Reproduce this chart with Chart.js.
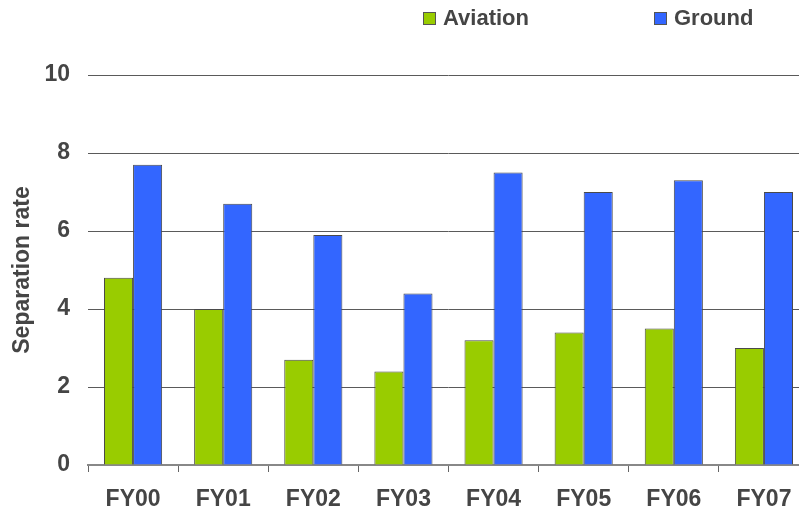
<!DOCTYPE html>
<html>
<head>
<meta charset="utf-8">
<script src="https://cdn.jsdelivr.net/npm/chart.js@4"></script>
<style>
  html, body { margin: 0; padding: 0; background: #fff; overflow: hidden; }
  #wrap { position: relative; width: 809px; height: 513px; }
</style>
</head>
<body>
<div id="wrap"><canvas id="rateChart"></canvas></div>
<script>
// data
const categories = ['FY00', 'FY01', 'FY02', 'FY03', 'FY04', 'FY05', 'FY06', 'FY07'];
const aviation = [4.8, 4.0, 2.7, 2.4, 3.2, 3.4, 3.5, 3.0];
const ground = [7.7, 6.7, 5.9, 4.4, 7.5, 7.0, 7.3, 7.0];
const yTicks = [0, 2, 4, 6, 8, 10];

const textColor = '#454545';
const fontFamily = 'Arial, "Liberation Sans", sans-serif';

// legend drawn at the top right, like the original
const topLegend = {
    id: 'topLegend',
    afterDraw(chart) {
        const ctx = chart.ctx;
        const spots = [423, 654];
        ctx.save();
        ctx.font = 'bold 22px ' + fontFamily;
        ctx.textBaseline = 'middle';
        chart.data.datasets.forEach((ds, i) => {
            const x = spots[i];
            ctx.fillStyle = ds.backgroundColor;
            ctx.fillRect(x, 12, 12, 12);
            ctx.strokeStyle = '#555';
            ctx.lineWidth = 1;
            ctx.strokeRect(x + 0.5, 12.5, 12, 12);
            ctx.fillStyle = textColor;
            ctx.fillText(ds.label, x + 20, 19);
        });
        ctx.restore();
    }
};

new Chart(document.getElementById('rateChart'), {
    type: 'bar',
    data: {
        labels: categories,
        datasets: [
            {
                label: 'Aviation',
                data: aviation,
                backgroundColor: '#99cc00',
                borderColor: '#4a4a4a',
                borderWidth: 1,
                barPercentage: 1,
                categoryPercentage: 0.645
            },
            {
                label: 'Ground',
                data: ground,
                backgroundColor: '#3366ff',
                borderColor: '#4a4a4a',
                borderWidth: 1,
                barPercentage: 1,
                categoryPercentage: 0.645
            }
        ]
    },
    options: {
        responsive: true,
        maintainAspectRatio: false,
        animation: false,
        devicePixelRatio: 1,
        layout: { padding: { top: 75, right: 0, bottom: 4, left: 0 } },
        plugins: {
            legend: { display: false },
            tooltip: { enabled: false }
        },
        scales: {
            x: {
                offset: true,
                afterFit(scale) { scale.height = 44; },
                border: { display: true, color: '#888', width: 2 },
                grid: {
                    display: true,
                    drawOnChartArea: false,
                    drawTicks: true,
                    tickLength: 7,
                    offset: true,
                    color: '#666'
                },
                ticks: {
                    color: textColor,
                    padding: 14,
                    font: { family: fontFamily, size: 23, weight: 'bold' }
                }
            },
            y: {
                min: 0,
                max: 10,
                afterFit(scale) { scale.width = 88; },
                afterBuildTicks(scale) { scale.ticks = yTicks.map(v => ({ value: v })); },
                border: { display: false },
                grid: {
                    color: '#5a5a5a',
                    lineWidth: 1,
                    drawTicks: false
                },
                ticks: {
                    color: textColor,
                    padding: 18,
                    font: { family: fontFamily, size: 23, weight: 'bold' }
                },
                title: {
                    display: true,
                    text: 'Separation rate',
                    color: textColor,
                    padding: { top: 9, bottom: 0 },
                    font: { family: fontFamily, size: 23, weight: 'bold' }
                }
            }
        }
    },
    plugins: [topLegend]
});
</script>
</body>
</html>
